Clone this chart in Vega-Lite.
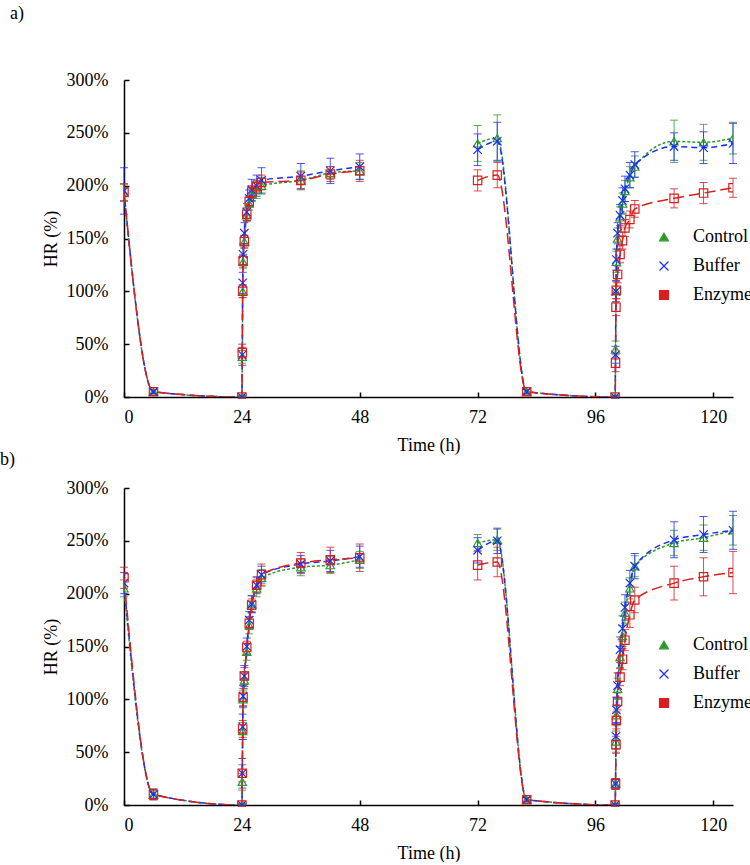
{
  "$schema": "https://vega.github.io/schema/vega-lite/v6.json",
  "padding": {"left": 0, "top": 5, "right": 0, "bottom": 0},
  "spacing": -3,
  "datasets": {
    "a": [
      {"s":"Control","c":1,"t":0,"v":193,"e":8},
      {"s":"Control","c":1,"t":6,"v":5,"e":2},
      {"s":"Control","c":1,"t":24,"v":0,"e":1},
      {"s":"Control","c":1,"t":24.083,"v":38,"e":6},
      {"s":"Control","c":1,"t":24.167,"v":100,"e":6},
      {"s":"Control","c":1,"t":24.25,"v":128,"e":6},
      {"s":"Control","c":1,"t":24.5,"v":147,"e":6},
      {"s":"Control","c":1,"t":25,"v":172,"e":6},
      {"s":"Control","c":1,"t":25.5,"v":183,"e":6},
      {"s":"Control","c":1,"t":26,"v":192,"e":7},
      {"s":"Control","c":1,"t":27,"v":196,"e":8},
      {"s":"Control","c":1,"t":28,"v":200,"e":8},
      {"s":"Control","c":1,"t":36,"v":205,"e":9},
      {"s":"Control","c":1,"t":42,"v":212,"e":6},
      {"s":"Control","c":1,"t":48,"v":214,"e":8},
      {"s":"Control","c":2,"t":72,"v":240,"e":17},
      {"s":"Control","c":2,"t":76,"v":245,"e":22},
      {"s":"Control","c":2,"t":82,"v":5,"e":2},
      {"s":"Control","c":2,"t":100,"v":0,"e":1},
      {"s":"Control","c":2,"t":100.083,"v":45,"e":8},
      {"s":"Control","c":2,"t":100.167,"v":100,"e":10},
      {"s":"Control","c":2,"t":100.25,"v":128,"e":10},
      {"s":"Control","c":2,"t":100.5,"v":150,"e":10},
      {"s":"Control","c":2,"t":101,"v":170,"e":10},
      {"s":"Control","c":2,"t":101.5,"v":183,"e":10},
      {"s":"Control","c":2,"t":102,"v":195,"e":10},
      {"s":"Control","c":2,"t":103,"v":208,"e":10},
      {"s":"Control","c":2,"t":104,"v":218,"e":10},
      {"s":"Control","c":2,"t":112,"v":242,"e":20},
      {"s":"Control","c":2,"t":118,"v":241,"e":17},
      {"s":"Control","c":2,"t":124,"v":245,"e":15},
      {"s":"Buffer","c":1,"t":0,"v":195,"e":22},
      {"s":"Buffer","c":1,"t":6,"v":5,"e":2},
      {"s":"Buffer","c":1,"t":24,"v":0,"e":1},
      {"s":"Buffer","c":1,"t":24.083,"v":40,"e":10},
      {"s":"Buffer","c":1,"t":24.167,"v":108,"e":10},
      {"s":"Buffer","c":1,"t":24.25,"v":135,"e":10},
      {"s":"Buffer","c":1,"t":24.5,"v":155,"e":10},
      {"s":"Buffer","c":1,"t":25,"v":175,"e":8},
      {"s":"Buffer","c":1,"t":25.5,"v":188,"e":8},
      {"s":"Buffer","c":1,"t":26,"v":196,"e":10},
      {"s":"Buffer","c":1,"t":27,"v":200,"e":10},
      {"s":"Buffer","c":1,"t":28,"v":205,"e":12},
      {"s":"Buffer","c":1,"t":36,"v":209,"e":12},
      {"s":"Buffer","c":1,"t":42,"v":214,"e":12},
      {"s":"Buffer","c":1,"t":48,"v":218,"e":12},
      {"s":"Buffer","c":2,"t":72,"v":234,"e":15},
      {"s":"Buffer","c":2,"t":76,"v":242,"e":18},
      {"s":"Buffer","c":2,"t":82,"v":5,"e":2},
      {"s":"Buffer","c":2,"t":100,"v":0,"e":1},
      {"s":"Buffer","c":2,"t":100.083,"v":40,"e":8},
      {"s":"Buffer","c":2,"t":100.167,"v":100,"e":10},
      {"s":"Buffer","c":2,"t":100.25,"v":130,"e":10},
      {"s":"Buffer","c":2,"t":100.5,"v":155,"e":10},
      {"s":"Buffer","c":2,"t":101,"v":172,"e":10},
      {"s":"Buffer","c":2,"t":101.5,"v":186,"e":12},
      {"s":"Buffer","c":2,"t":102,"v":197,"e":12},
      {"s":"Buffer","c":2,"t":103,"v":210,"e":12},
      {"s":"Buffer","c":2,"t":104,"v":220,"e":12},
      {"s":"Buffer","c":2,"t":112,"v":237,"e":13},
      {"s":"Buffer","c":2,"t":118,"v":236,"e":15},
      {"s":"Buffer","c":2,"t":124,"v":240,"e":19},
      {"s":"Enzyme","c":1,"t":0,"v":194,"e":8},
      {"s":"Enzyme","c":1,"t":6,"v":5,"e":2},
      {"s":"Enzyme","c":1,"t":24,"v":0,"e":1},
      {"s":"Enzyme","c":1,"t":24.083,"v":42,"e":5},
      {"s":"Enzyme","c":1,"t":24.167,"v":100,"e":6},
      {"s":"Enzyme","c":1,"t":24.25,"v":129,"e":6},
      {"s":"Enzyme","c":1,"t":24.5,"v":147,"e":6},
      {"s":"Enzyme","c":1,"t":25,"v":173,"e":6},
      {"s":"Enzyme","c":1,"t":25.5,"v":185,"e":5},
      {"s":"Enzyme","c":1,"t":26,"v":194,"e":6},
      {"s":"Enzyme","c":1,"t":27,"v":199,"e":6},
      {"s":"Enzyme","c":1,"t":28,"v":203,"e":7},
      {"s":"Enzyme","c":1,"t":36,"v":205,"e":8},
      {"s":"Enzyme","c":1,"t":42,"v":211,"e":7},
      {"s":"Enzyme","c":1,"t":48,"v":214,"e":10},
      {"s":"Enzyme","c":2,"t":72,"v":205,"e":10},
      {"s":"Enzyme","c":2,"t":76,"v":210,"e":12},
      {"s":"Enzyme","c":2,"t":82,"v":5,"e":2},
      {"s":"Enzyme","c":2,"t":100,"v":0,"e":1},
      {"s":"Enzyme","c":2,"t":100.083,"v":32,"e":8},
      {"s":"Enzyme","c":2,"t":100.167,"v":85,"e":8},
      {"s":"Enzyme","c":2,"t":100.25,"v":101,"e":8},
      {"s":"Enzyme","c":2,"t":100.5,"v":116,"e":8},
      {"s":"Enzyme","c":2,"t":101,"v":135,"e":8},
      {"s":"Enzyme","c":2,"t":101.5,"v":148,"e":8},
      {"s":"Enzyme","c":2,"t":102,"v":160,"e":8},
      {"s":"Enzyme","c":2,"t":103,"v":168,"e":8},
      {"s":"Enzyme","c":2,"t":104,"v":178,"e":8},
      {"s":"Enzyme","c":2,"t":112,"v":188,"e":9},
      {"s":"Enzyme","c":2,"t":118,"v":193,"e":10},
      {"s":"Enzyme","c":2,"t":124,"v":198,"e":9}
    ],
    "b": [
      {"s":"Control","c":1,"t":0,"v":205,"e":8},
      {"s":"Control","c":1,"t":6,"v":10,"e":5},
      {"s":"Control","c":1,"t":24,"v":0,"e":1},
      {"s":"Control","c":1,"t":24.083,"v":22,"e":8},
      {"s":"Control","c":1,"t":24.167,"v":70,"e":8},
      {"s":"Control","c":1,"t":24.25,"v":100,"e":8},
      {"s":"Control","c":1,"t":24.5,"v":118,"e":8},
      {"s":"Control","c":1,"t":25,"v":145,"e":8},
      {"s":"Control","c":1,"t":25.5,"v":170,"e":8},
      {"s":"Control","c":1,"t":26,"v":190,"e":8},
      {"s":"Control","c":1,"t":27,"v":205,"e":8},
      {"s":"Control","c":1,"t":28,"v":215,"e":8},
      {"s":"Control","c":1,"t":36,"v":225,"e":8},
      {"s":"Control","c":1,"t":42,"v":227,"e":8},
      {"s":"Control","c":1,"t":48,"v":232,"e":8},
      {"s":"Control","c":2,"t":72,"v":248,"e":8},
      {"s":"Control","c":2,"t":76,"v":251,"e":10},
      {"s":"Control","c":2,"t":82,"v":5,"e":2},
      {"s":"Control","c":2,"t":100,"v":0,"e":1},
      {"s":"Control","c":2,"t":100.083,"v":20,"e":5},
      {"s":"Control","c":2,"t":100.167,"v":60,"e":10},
      {"s":"Control","c":2,"t":100.25,"v":85,"e":10},
      {"s":"Control","c":2,"t":100.5,"v":110,"e":10},
      {"s":"Control","c":2,"t":101,"v":140,"e":10},
      {"s":"Control","c":2,"t":101.5,"v":160,"e":10},
      {"s":"Control","c":2,"t":102,"v":182,"e":10},
      {"s":"Control","c":2,"t":103,"v":205,"e":10},
      {"s":"Control","c":2,"t":104,"v":226,"e":10},
      {"s":"Control","c":2,"t":112,"v":248,"e":12},
      {"s":"Control","c":2,"t":118,"v":253,"e":12},
      {"s":"Control","c":2,"t":124,"v":260,"e":14},
      {"s":"Buffer","c":1,"t":0,"v":210,"e":10},
      {"s":"Buffer","c":1,"t":6,"v":10,"e":5},
      {"s":"Buffer","c":1,"t":24,"v":0,"e":1},
      {"s":"Buffer","c":1,"t":24.083,"v":30,"e":14},
      {"s":"Buffer","c":1,"t":24.167,"v":74,"e":12},
      {"s":"Buffer","c":1,"t":24.25,"v":103,"e":10},
      {"s":"Buffer","c":1,"t":24.5,"v":122,"e":10},
      {"s":"Buffer","c":1,"t":25,"v":150,"e":8},
      {"s":"Buffer","c":1,"t":25.5,"v":175,"e":8},
      {"s":"Buffer","c":1,"t":26,"v":190,"e":8},
      {"s":"Buffer","c":1,"t":27,"v":208,"e":8},
      {"s":"Buffer","c":1,"t":28,"v":218,"e":8},
      {"s":"Buffer","c":1,"t":36,"v":228,"e":8},
      {"s":"Buffer","c":1,"t":42,"v":231,"e":10},
      {"s":"Buffer","c":1,"t":48,"v":235,"e":10},
      {"s":"Buffer","c":2,"t":72,"v":241,"e":12},
      {"s":"Buffer","c":2,"t":76,"v":250,"e":12},
      {"s":"Buffer","c":2,"t":82,"v":5,"e":2},
      {"s":"Buffer","c":2,"t":100,"v":0,"e":1},
      {"s":"Buffer","c":2,"t":100.083,"v":20,"e":5},
      {"s":"Buffer","c":2,"t":100.167,"v":65,"e":12},
      {"s":"Buffer","c":2,"t":100.25,"v":90,"e":12},
      {"s":"Buffer","c":2,"t":100.5,"v":113,"e":12},
      {"s":"Buffer","c":2,"t":101,"v":147,"e":12},
      {"s":"Buffer","c":2,"t":101.5,"v":167,"e":12},
      {"s":"Buffer","c":2,"t":102,"v":187,"e":12},
      {"s":"Buffer","c":2,"t":103,"v":210,"e":12},
      {"s":"Buffer","c":2,"t":104,"v":226,"e":12},
      {"s":"Buffer","c":2,"t":112,"v":251,"e":17},
      {"s":"Buffer","c":2,"t":118,"v":256,"e":17},
      {"s":"Buffer","c":2,"t":124,"v":260,"e":18},
      {"s":"Enzyme","c":1,"t":0,"v":215,"e":10},
      {"s":"Enzyme","c":1,"t":6,"v":10,"e":5},
      {"s":"Enzyme","c":1,"t":24,"v":0,"e":1},
      {"s":"Enzyme","c":1,"t":24.083,"v":30,"e":8},
      {"s":"Enzyme","c":1,"t":24.167,"v":72,"e":8},
      {"s":"Enzyme","c":1,"t":24.25,"v":102,"e":8},
      {"s":"Enzyme","c":1,"t":24.5,"v":122,"e":8},
      {"s":"Enzyme","c":1,"t":25,"v":149,"e":6},
      {"s":"Enzyme","c":1,"t":25.5,"v":172,"e":6},
      {"s":"Enzyme","c":1,"t":26,"v":189,"e":6},
      {"s":"Enzyme","c":1,"t":27,"v":208,"e":7},
      {"s":"Enzyme","c":1,"t":28,"v":218,"e":10},
      {"s":"Enzyme","c":1,"t":36,"v":229,"e":10},
      {"s":"Enzyme","c":1,"t":42,"v":232,"e":12},
      {"s":"Enzyme","c":1,"t":48,"v":234,"e":13},
      {"s":"Enzyme","c":2,"t":72,"v":227,"e":14},
      {"s":"Enzyme","c":2,"t":76,"v":230,"e":14},
      {"s":"Enzyme","c":2,"t":82,"v":5,"e":2},
      {"s":"Enzyme","c":2,"t":100,"v":0,"e":1},
      {"s":"Enzyme","c":2,"t":100.083,"v":20,"e":5},
      {"s":"Enzyme","c":2,"t":100.167,"v":57,"e":8},
      {"s":"Enzyme","c":2,"t":100.25,"v":80,"e":8},
      {"s":"Enzyme","c":2,"t":100.5,"v":98,"e":8},
      {"s":"Enzyme","c":2,"t":101,"v":121,"e":8},
      {"s":"Enzyme","c":2,"t":101.5,"v":138,"e":10},
      {"s":"Enzyme","c":2,"t":102,"v":156,"e":10},
      {"s":"Enzyme","c":2,"t":103,"v":180,"e":12},
      {"s":"Enzyme","c":2,"t":104,"v":194,"e":12},
      {"s":"Enzyme","c":2,"t":112,"v":210,"e":16},
      {"s":"Enzyme","c":2,"t":118,"v":216,"e":18},
      {"s":"Enzyme","c":2,"t":124,"v":220,"e":20}
    ]
  },
  "vconcat": [
    {
      "width": 609,
      "height": 317,
      "title": {"text": "a)", "dx": -114, "offset": 48},
      "data": {"name": "a"},
      "encoding": {
        "x": {"field": "t", "type": "quantitative", "scale": {"domain": [0, 124], "nice": false, "zero": false},
              "axis": {"values": [0, 24, 48, 72, 96, 120], "title": "Time (h)"}},
        "color": {"field": "s", "type": "nominal",
                  "scale": {"domain": ["Control", "Buffer", "Enzyme"], "range": ["#2e9a2e", "#1a2cff", "#d81e1e"]},
                  "legend": {"orient": "none", "legendX": 531, "legendY": 148}}
      },
      "layer": [
        {"mark": {"type": "errorbar", "ticks": {"size": 8}, "thickness": 1, "opacity": 0.8},
         "encoding": {"y": {"field": "v", "type": "quantitative", "scale": {"domain": [0, 300], "nice": false},
                            "axis": {"values": [0, 50, 100, 150, 200, 250, 300], "labelExpr": "datum.value + '%'", "title": "HR (%)"}},
                      "yError": {"field": "e"}}},
        {"mark": {"type": "line", "interpolate": "monotone", "clip": true, "strokeWidth": 1.5},
         "encoding": {"y": {"field": "v", "type": "quantitative"},
                      "detail": {"field": "c", "type": "nominal"},
                      "strokeDash": {"field": "s", "type": "nominal", "legend": null,
                                     "scale": {"domain": ["Control", "Buffer", "Enzyme"], "range": [[3, 2], [6, 4], [11, 5]]}}}},
        {"mark": {"type": "point", "filled": false, "size": 70, "strokeWidth": 1.2, "opacity": 1, "clip": true},
         "encoding": {"y": {"field": "v", "type": "quantitative"},
                      "shape": {"field": "s", "type": "nominal",
                                "scale": {"domain": ["Control", "Buffer", "Enzyme"], "range": ["triangle-up", "M-1,-1L1,1M-1,1L1,-1", "square"]},
                                "legend": {"orient": "none", "legendX": 531, "legendY": 148}}}}
      ]
    },
    {
      "width": 609,
      "height": 317,
      "title": {"text": "b)", "dx": -124, "offset": 10},
      "data": {"name": "b"},
      "encoding": {
        "x": {"field": "t", "type": "quantitative", "scale": {"domain": [0, 124], "nice": false, "zero": false},
              "axis": {"values": [0, 24, 48, 72, 96, 120], "title": "Time (h)"}},
        "color": {"field": "s", "type": "nominal",
                  "scale": {"domain": ["Control", "Buffer", "Enzyme"], "range": ["#2e9a2e", "#1a2cff", "#d81e1e"]},
                  "legend": {"orient": "none", "legendX": 531, "legendY": 148}}
      },
      "layer": [
        {"mark": {"type": "errorbar", "ticks": {"size": 8}, "thickness": 1, "opacity": 0.8},
         "encoding": {"y": {"field": "v", "type": "quantitative", "scale": {"domain": [0, 300], "nice": false},
                            "axis": {"values": [0, 50, 100, 150, 200, 250, 300], "labelExpr": "datum.value + '%'", "title": "HR (%)"}},
                      "yError": {"field": "e"}}},
        {"mark": {"type": "line", "interpolate": "monotone", "clip": true, "strokeWidth": 1.5},
         "encoding": {"y": {"field": "v", "type": "quantitative"},
                      "detail": {"field": "c", "type": "nominal"},
                      "strokeDash": {"field": "s", "type": "nominal", "legend": null,
                                     "scale": {"domain": ["Control", "Buffer", "Enzyme"], "range": [[3, 2], [6, 4], [11, 5]]}}}},
        {"mark": {"type": "point", "filled": false, "size": 70, "strokeWidth": 1.2, "opacity": 1, "clip": true},
         "encoding": {"y": {"field": "v", "type": "quantitative"},
                      "shape": {"field": "s", "type": "nominal",
                                "scale": {"domain": ["Control", "Buffer", "Enzyme"], "range": ["triangle-up", "M-1,-1L1,1M-1,1L1,-1", "square"]},
                                "legend": {"orient": "none", "legendX": 531, "legendY": 148}}}}
      ]
    }
  ],
  "resolve": {"legend": {"color": "independent", "shape": "independent"}},
  "config": {
    "view": {"stroke": null},
    "font": "Liberation Serif",
    "title": {"font": "Liberation Serif", "fontSize": 18, "fontWeight": "normal", "anchor": "start", "frame": "group", "color": "black"},
    "axis": {"grid": false, "domainColor": "black", "domainWidth": 1.5, "tickColor": "black", "tickWidth": 1.5, "tickSize": -5,
             "labelFont": "Liberation Serif", "labelFontSize": 18, "labelColor": "black", "labelPadding": 21,
             "titleFont": "Liberation Serif", "titleFontSize": 18, "titleFontWeight": "normal", "titleColor": "black", "zindex": 1},
    "axisX": {"labelPadding": 16, "titlePadding": 10},
    "axisY": {"titlePadding": 6},
    "legend": {
      "title": null, "padding": 0, "rowPadding": 11, "symbolSize": 80, "symbolStrokeWidth": 1.2,
      "labelFont": "Liberation Serif", "labelFontSize": 18, "labelColor": "black", "labelOffset": 20,
      "symbolOpacity": 1
    }
  }
}
